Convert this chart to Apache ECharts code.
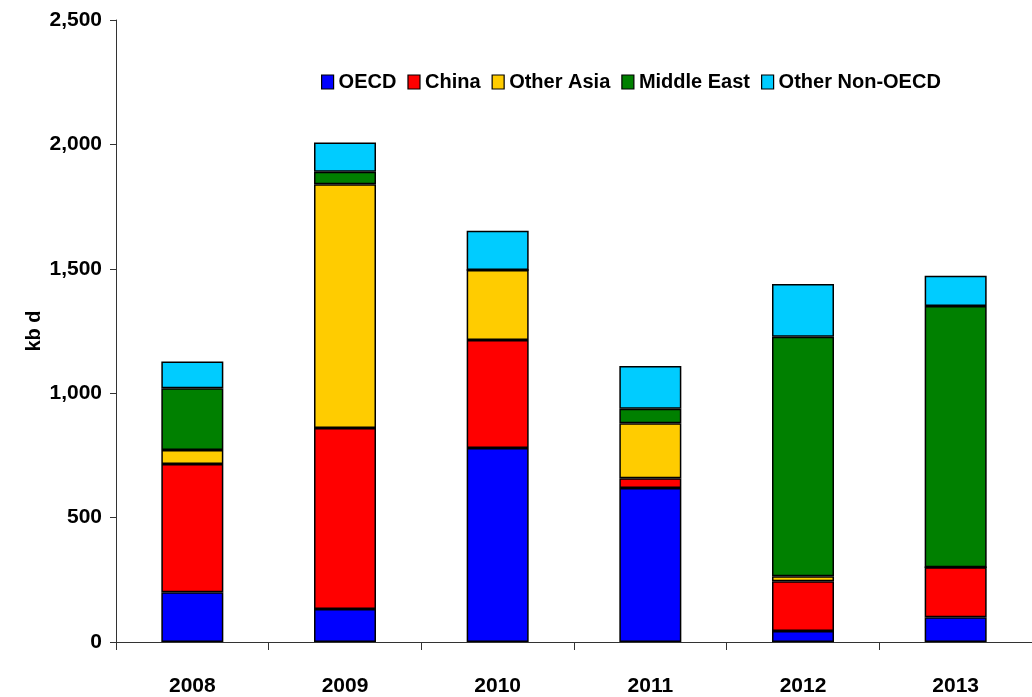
<!DOCTYPE html>
<html>
<head>
<meta charset="utf-8">
<script src="https://cdn.jsdelivr.net/npm/echarts@6/dist/echarts.min.js"></script>
<style>
  html, body { margin: 0; padding: 0; background: #fff; }
  #chart { width: 1032px; height: 697px; }
</style>
</head>
<body>
<div id="chart"></div>
<script>
// Incremental demand by region, kbd
const years = ['2008', '2009', '2010', '2011', '2012', '2013'];
const oecd         = [200, 133, 780, 619, 44, 99];
const china        = [515, 727, 434, 39, 200, 201];
const otherAsia    = [57, 980, 281, 221, 20, 0];
const middleEast   = [248, 50, 0, 59, 963, 1050];
const otherNonOecd = [107, 118, 158, 171, 212, 122];
const yTicks = [0, 500, 1000, 1500, 2000, 2500];

const FONT = '"Liberation Sans", Arial, sans-serif';

function makeSeries(name, data, color) {
  return {
    name: name,
    type: 'bar',
    stack: 'total',
    data: data,
    barWidth: 62,
    itemStyle: { color: color, borderColor: '#000', borderWidth: 1.5 },
    emphasis: { disabled: true }
  };
}

const chart = echarts.init(document.getElementById('chart'), null, { renderer: 'canvas' });
chart.setOption({
  animation: false,
  backgroundColor: '#fff',
  legend: {
    left: 316,
    top: 67,
    itemWidth: 12,
    itemHeight: 14,
    itemGap: 11,
    icon: 'rect',
    textStyle: { fontFamily: FONT, fontWeight: 'bold', fontSize: 20, color: '#000' },
    itemStyle: { borderColor: '#000', borderWidth: 1.2 },
    data: ['OECD', 'China', 'Other Asia', 'Middle East', 'Other Non-OECD']
  },
  grid: { left: 116, right: -11, top: 20, bottom: 55, containLabel: false },
  xAxis: {
    type: 'category',
    data: years,
    axisLine: { lineStyle: { color: '#333', width: 1 } },
    axisTick: { show: true, length: 8, lineStyle: { color: '#333' } },
    axisLabel: { fontFamily: FONT, fontWeight: 'bold', fontSize: 21, color: '#000', margin: 34 }
  },
  yAxis: {
    type: 'value',
    min: yTicks[0],
    max: yTicks[yTicks.length - 1],
    interval: yTicks[1] - yTicks[0],
    name: 'kb d',
    nameLocation: 'middle',
    nameGap: 72,
    nameMoveOverlap: false,
    nameTextStyle: { fontFamily: FONT, fontWeight: 'bold', fontSize: 20, color: '#000' },
    axisLine: { show: true, lineStyle: { color: '#333', width: 1 } },
    axisTick: { show: true, length: 6, lineStyle: { color: '#333' } },
    splitLine: { show: false },
    axisLabel: {
      fontFamily: FONT, fontWeight: 'bold', fontSize: 21, color: '#000', margin: 14,
      formatter: v => v.toLocaleString('en-US')
    }
  },
  series: [
    makeSeries('OECD', oecd, '#0000FF'),
    makeSeries('China', china, '#FF0000'),
    makeSeries('Other Asia', otherAsia, '#FFCC00'),
    makeSeries('Middle East', middleEast, '#008000'),
    makeSeries('Other Non-OECD', otherNonOecd, '#00CCFF')
  ]
});
</script>
</body>
</html>
